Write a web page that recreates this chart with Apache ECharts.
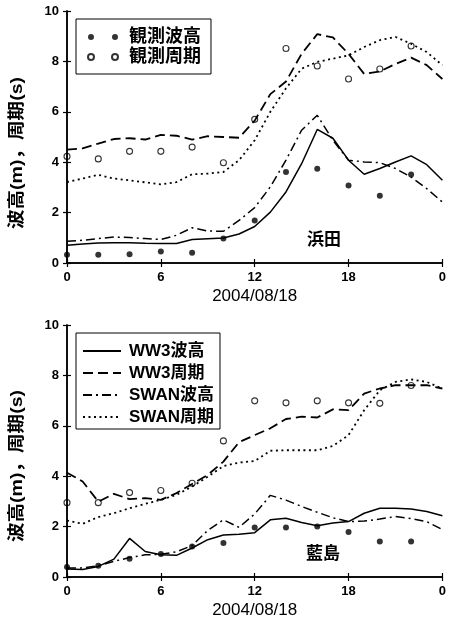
<!DOCTYPE html>
<html>
<head>
<meta charset="utf-8">
<script src="https://cdn.jsdelivr.net/npm/echarts@6/dist/echarts.min.js"></script>
<style>
  html, body { margin: 0; padding: 0; background: #fff; }
  #chart { width: 449px; height: 621px; }
</style>
</head>
<body>
<div id="chart"></div>
<script>
// time axis (hours on 2004/08/18)
const hours = [0, 1, 2, 3, 4, 5, 6, 7, 8, 9, 10, 11, 12, 13, 14, 15, 16, 17, 18, 19, 20, 21, 22, 23, 24];
const obsHours = [0, 2, 4, 6, 8, 10, 12, 14, 16, 18, 20, 22];
const xTicks = [0, 6, 12, 18, 24];
const xTickLabels = ['0', '6', '12', '18', '0'];

// 浜田
const hamadaObsHs = [0.33, 0.33, 0.35, 0.46, 0.41, 0.97, 1.69, 3.61, 3.74, 3.08, 2.67, 3.51];
const hamadaObsTp = [4.23, 4.13, 4.43, 4.43, 4.6, 3.98, 5.7, 8.51, 7.82, 7.3, 7.7, 8.61];
const hamadaWw3Hs = [0.7, 0.75, 0.79, 0.8, 0.8, 0.78, 0.77, 0.77, 0.93, 0.96, 0.99, 1.15, 1.45, 2.02, 2.82, 3.94, 5.3, 4.95, 4.08, 3.52, 3.75, 4.01, 4.25, 3.9, 3.28];
const hamadaWw3Tp = [4.5, 4.55, 4.74, 4.92, 4.95, 4.9, 5.08, 5.05, 4.9, 5.03, 5.0, 4.97, 5.65, 6.7, 7.2, 8.3, 9.08, 8.95, 8.3, 7.5, 7.6, 7.9, 8.15, 7.85, 7.3];
const hamadaSwanHs = [0.86, 0.9, 0.97, 1.03, 1.01, 0.97, 0.93, 1.1, 1.4, 1.27, 1.26, 1.69, 2.2, 3.02, 4.08, 5.27, 5.86, 4.87, 4.08, 4.01, 3.98, 3.75, 3.41, 2.95, 2.42];
const hamadaSwanTp = [3.21, 3.35, 3.5, 3.35, 3.28, 3.2, 3.12, 3.21, 3.52, 3.55, 3.61, 4.08, 4.87, 6.0, 6.93, 7.71, 7.98, 8.11, 8.24, 8.57, 8.84, 8.97, 8.7, 8.37, 7.85];

// 藍島
const aiObsHs = [0.4, 0.45, 0.72, 0.91, 1.21, 1.35, 1.96, 1.96, 2.0, 1.79, 1.41, 1.41];
const aiObsTp = [2.95, 2.95, 3.35, 3.43, 3.72, 5.4, 6.99, 6.91, 6.99, 6.91, 6.89, 7.6];
const aiWw3Hs = [0.32, 0.3, 0.42, 0.71, 1.53, 1.01, 0.88, 0.86, 1.15, 1.48, 1.67, 1.7, 1.76, 2.27, 2.33, 2.16, 2.03, 2.14, 2.2, 2.53, 2.73, 2.73, 2.7, 2.6, 2.43];
const aiWw3Tp = [4.14, 3.79, 2.99, 3.3, 3.09, 3.13, 3.06, 3.33, 3.69, 4.05, 4.58, 5.35, 5.63, 5.9, 6.27, 6.36, 6.33, 6.65, 6.62, 7.28, 7.48, 7.61, 7.61, 7.61, 7.48];
const aiSwanHs = [0.36, 0.36, 0.45, 0.62, 0.77, 0.88, 0.9, 1.0, 1.25, 1.85, 2.27, 1.97, 2.5, 3.24, 3.05, 2.8, 2.57, 2.35, 2.2, 2.22, 2.3, 2.4, 2.32, 2.2, 1.88];
const aiSwanTp = [2.24, 2.11, 2.38, 2.53, 2.73, 2.9, 3.06, 3.26, 3.59, 3.98, 4.4, 4.54, 4.6, 5.01, 5.03, 5.03, 5.03, 5.2, 5.63, 6.62, 7.41, 7.74, 7.84, 7.74, 7.48];

const FONT = '"Liberation Sans", "Noto Sans CJK JP", sans-serif';
const twoDots = 'path://M0,3A3,3 0 1,0 6,3A3,3 0 1,0 0,3ZM24,3A3,3 0 1,0 30,3A3,3 0 1,0 24,3Z';

const pairs = (xs, ys) => xs.map((x, i) => [x, ys[i]]);

const chart = echarts.init(document.getElementById('chart'));

const axisLine = { lineStyle: { color: '#000', width: 1.5 } };
const axisTick = { inside: false, length: 4, lineStyle: { color: '#000', width: 1.2 } };
const tickFont = { color: '#000', fontSize: 13, fontWeight: 'bold', fontFamily: FONT };

function xAxes(gridIndex) {
  return [
    {
      gridIndex, type: 'value', min: 0, max: 24, interval: 6, position: 'bottom',
      axisLine, axisTick, splitLine: { show: false },
      axisLabel: Object.assign({ margin: 8, formatter: v => xTickLabels[xTicks.indexOf(v)] }, tickFont),
      name: '2004/08/18', nameLocation: 'middle', nameGap: 25,
      nameTextStyle: { color: '#000', fontSize: 17, fontFamily: FONT }
    },
    {
      gridIndex, type: 'value', min: 0, max: 24, interval: 6, position: 'top',
      axisLine, axisTick, splitLine: { show: false }, axisLabel: { show: false }
    }
  ];
}
function yAxes(gridIndex) {
  return [
    {
      gridIndex, type: 'value', min: 0, max: 10, interval: 2, position: 'left',
      axisLine, axisTick, splitLine: { show: false },
      axisLabel: Object.assign({ margin: 8 }, tickFont)
    },
    {
      gridIndex, type: 'value', min: 0, max: 10, interval: 2, position: 'right',
      axisLine, axisTick, splitLine: { show: false }, axisLabel: { show: false }
    }
  ];
}

function panelSeries(p, obsHs, obsTp, ww3Hs, ww3Tp, swanHs, swanTp) {
  const xi = p * 2, yi = p * 2;
  const line = (name, data, type, width) => ({
    name, type: 'line', xAxisIndex: xi, yAxisIndex: yi,
    data: pairs(hours, data), symbol: 'none', silent: true,
    lineStyle: { color: '#000', width, type, cap: 'butt' }, itemStyle: { color: '#000' }, z: 2
  });
  return [
    line('WW3波高', ww3Hs, 'solid', 1.5),
    line('WW3周期', ww3Tp, [10, 5], 1.8),
    line('SWAN波高', swanHs, [9, 4, 2, 4], 1.5),
    line('SWAN周期', swanTp, [2, 3.5], 1.8),
    {
      name: '観測波高', type: 'scatter', xAxisIndex: xi, yAxisIndex: yi,
      data: pairs(obsHours, obsHs), symbol: 'circle', symbolSize: 6,
      itemStyle: { color: '#000' }, z: 3
    },
    {
      name: '観測周期', type: 'scatter', xAxisIndex: xi, yAxisIndex: yi,
      data: pairs(obsHours, obsTp), symbol: 'circle', symbolSize: 6,
      itemStyle: { color: 'rgba(0,0,0,0)', borderColor: '#000', borderWidth: 1.1 }, z: 3
    }
  ];
}

const yTitle = (y) => ({
  type: 'text', x: 17, y, rotation: Math.PI / 2, scaleX: 1.15,
  style: {
    text: '波高(m)，周期(s)', fill: '#000', fontSize: 17, fontWeight: 'bold',
    fontFamily: FONT, textAlign: 'center', textVerticalAlign: 'middle'
  }
});
const station = (text, x, y) => ({
  type: 'text', x, y,
  style: {
    text, fill: '#000', fontSize: 17, fontWeight: 'bold', fontFamily: FONT,
    textAlign: 'center', textVerticalAlign: 'middle'
  }
});

const option = {
  animation: false,
  backgroundColor: '#fff',
  grid: [
    { left: 67, top: 11, width: 379, height: 252 },
    { left: 67, top: 325, width: 379, height: 252 }
  ],
  xAxis: xAxes(0).concat(xAxes(1)),
  yAxis: yAxes(0).concat(yAxes(1)),
  legend: [
    {
      data: ['観測波高', '観測周期'], orient: 'vertical', left: 76, top: 19,
      padding: [8, 10, 7, 11], itemGap: 0, itemWidth: 30, itemHeight: 6, icon: twoDots,
      borderColor: '#000', borderWidth: 1, selectedMode: false,
      textStyle: { color: '#000', fontSize: 18, fontWeight: 'bold', fontFamily: FONT, lineHeight: 20, padding: [0, 0, 0, 6] }
    },
    {
      data: ['WW3波高', 'WW3周期', 'SWAN波高', 'SWAN周期'], orient: 'vertical', left: 76, top: 333,
      padding: [8, 6, 2, 6], itemGap: 2, itemWidth: 38, itemHeight: 12,
      borderColor: '#000', borderWidth: 1, selectedMode: false,
      itemStyle: { opacity: 0 },
      textStyle: { color: '#000', fontSize: 17, fontWeight: 'bold', fontFamily: FONT, lineHeight: 20, padding: [0, 0, 0, 3] }
    }
  ],
  graphic: [
    yTitle(153),
    yTitle(466),
    station('浜田', 324, 240),
    station('藍島', 323, 554)
  ],
  series: panelSeries(0, hamadaObsHs, hamadaObsTp, hamadaWw3Hs, hamadaWw3Tp, hamadaSwanHs, hamadaSwanTp)
    .concat(panelSeries(1, aiObsHs, aiObsTp, aiWw3Hs, aiWw3Tp, aiSwanHs, aiSwanTp))
};

chart.setOption(option);
</script>
</body>
</html>
